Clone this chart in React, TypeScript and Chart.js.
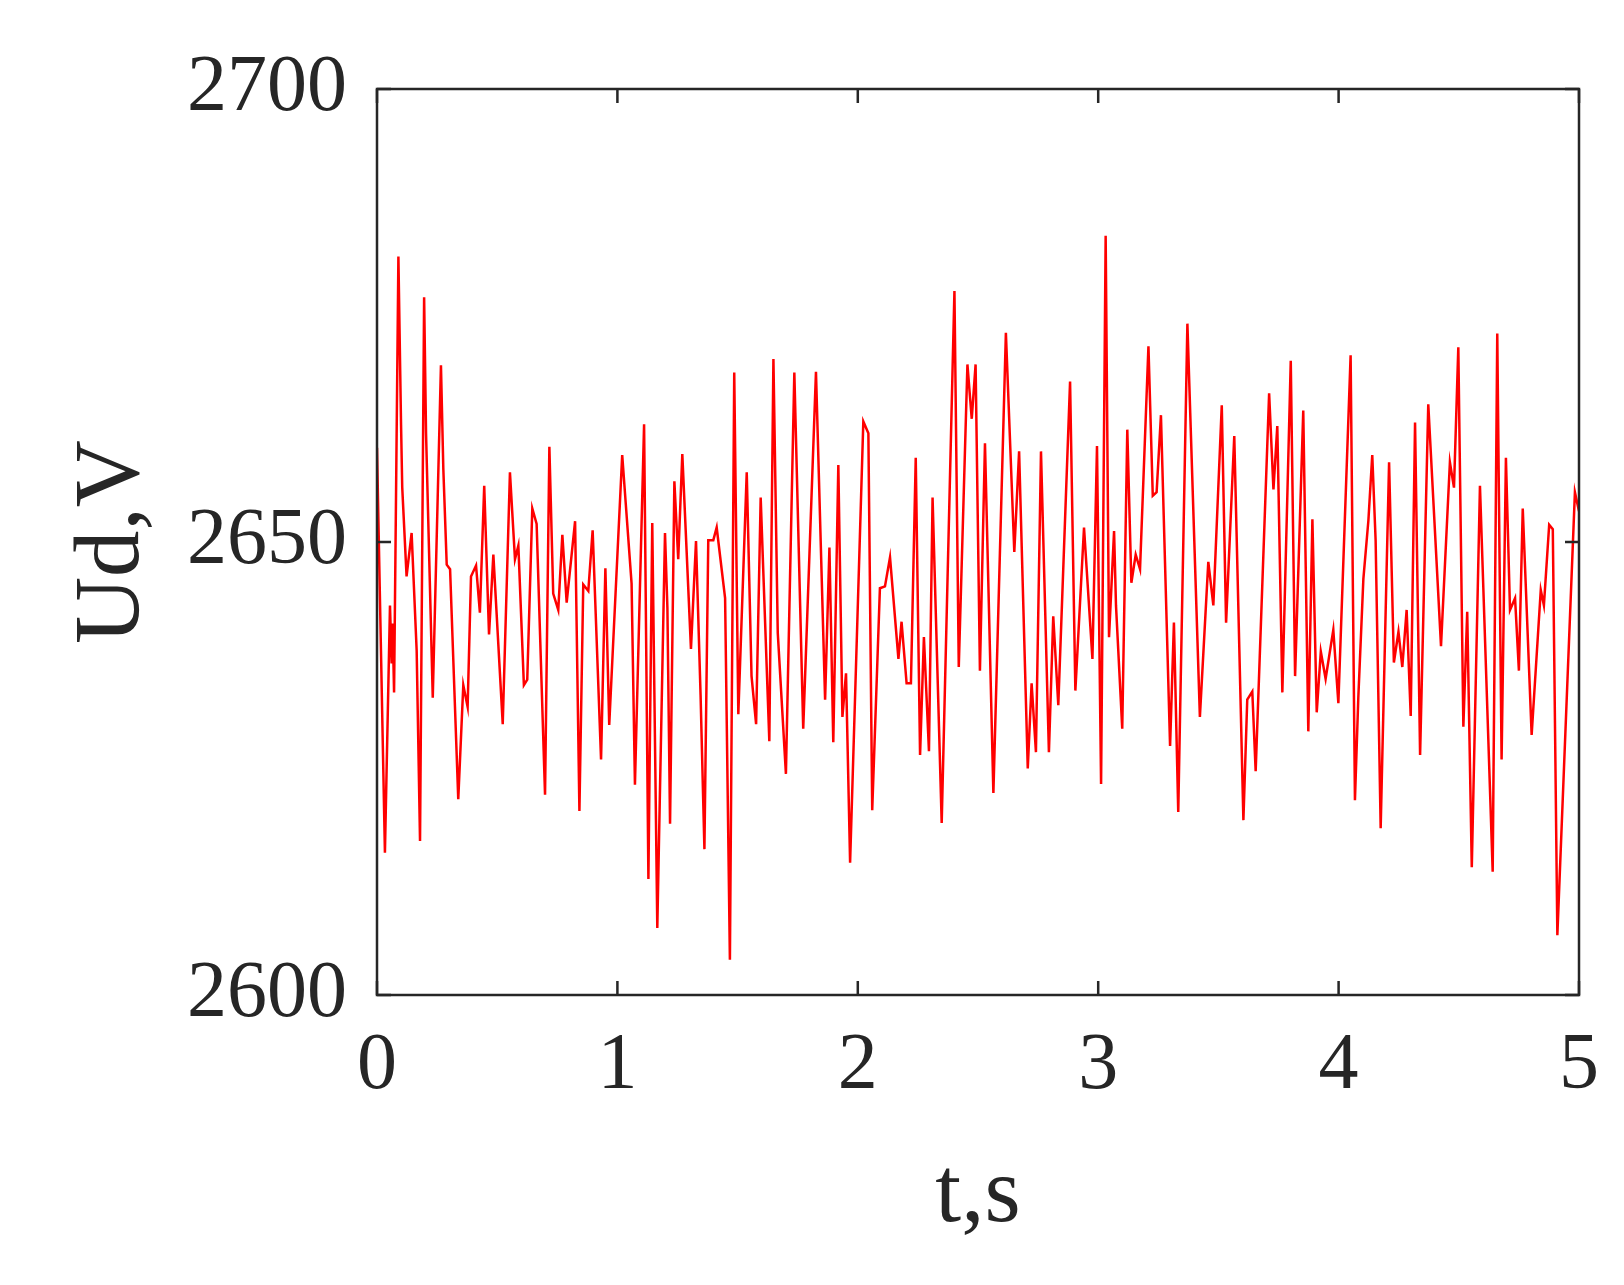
import React, { useEffect, useRef } from "react";
import { Chart, registerables } from "chart.js";

Chart.register(...registerables);

// time (s)
const times = [
  0.0, 0.033, 0.054, 0.061, 0.065, 0.071, 0.089, 0.1, 0.105, 0.123, 0.144, 0.165, 0.179, 0.196, 0.204,
  0.232, 0.266, 0.276, 0.29, 0.304, 0.338, 0.359, 0.377, 0.391, 0.412, 0.428, 0.446, 0.466, 0.484,
  0.523, 0.553, 0.574, 0.588, 0.611, 0.625, 0.646, 0.664, 0.699, 0.717, 0.733, 0.754, 0.771, 0.789,
  0.824, 0.842, 0.858, 0.879, 0.897, 0.932, 0.95, 0.966, 1.02, 1.059, 1.073, 1.111, 1.129, 1.145,
  1.166, 1.198, 1.208, 1.219, 1.237, 1.253, 1.27, 1.306, 1.327, 1.346, 1.362, 1.378, 1.399, 1.413,
  1.448, 1.468, 1.486, 1.503, 1.538, 1.558, 1.577, 1.596, 1.632, 1.649, 1.667, 1.701, 1.736, 1.773,
  1.826, 1.864, 1.882, 1.898, 1.919, 1.936, 1.951, 1.968, 2.023, 2.044, 2.06, 2.092, 2.113, 2.134,
  2.169, 2.182, 2.203, 2.221, 2.241, 2.259, 2.275, 2.296, 2.311, 2.349, 2.402, 2.42, 2.456, 2.474,
  2.49, 2.508, 2.529, 2.564, 2.616, 2.651, 2.671, 2.707, 2.723, 2.741, 2.762, 2.795, 2.813, 2.834,
  2.883, 2.905, 2.941, 2.976, 2.995, 3.012, 3.031, 3.045, 3.066, 3.074, 3.1, 3.121, 3.138, 3.156,
  3.174, 3.209, 3.227, 3.243, 3.261, 3.299, 3.315, 3.333, 3.371, 3.423, 3.458, 3.479, 3.514, 3.532,
  3.566, 3.604, 3.62, 3.641, 3.655, 3.711, 3.729, 3.745, 3.766, 3.801, 3.819, 3.853, 3.874, 3.891,
  3.909, 3.926, 3.946, 3.978, 3.999, 4.05, 4.068, 4.082, 4.103, 4.124, 4.14, 4.154, 4.175, 4.21,
  4.23, 4.249, 4.265, 4.283, 4.3, 4.318, 4.339, 4.373, 4.426, 4.463, 4.48, 4.498, 4.519, 4.535,
  4.554, 4.588, 4.641, 4.66, 4.678, 4.696, 4.713, 4.734, 4.75, 4.766, 4.803, 4.841, 4.854, 4.876,
  4.891, 4.91, 4.983, 5.0,
];

// Ud (V)
const voltages = [
  2660.4, 2615.7, 2643.0, 2636.6, 2641.0, 2633.4, 2681.5, 2663.0, 2656.0, 2646.2, 2651.0, 2638.0, 2617.0, 2677.0, 2662.0,
  2632.8, 2669.5, 2658.0, 2647.5, 2647.0, 2621.6, 2634.2, 2631.8, 2646.2, 2647.4, 2642.2, 2656.2, 2639.8, 2648.6,
  2629.9, 2657.7, 2648.1, 2649.6, 2634.2, 2634.8, 2653.7, 2652.0, 2622.1, 2660.5, 2644.3, 2642.5, 2650.8, 2643.3,
  2652.3, 2620.3, 2645.3, 2644.6, 2651.3, 2626.0, 2647.1, 2629.8, 2659.6, 2645.4, 2623.2, 2663.0, 2612.8, 2652.1,
  2607.4, 2651.0, 2642.7, 2618.9, 2656.7, 2648.1, 2659.7, 2638.2, 2650.1, 2633.1, 2616.1, 2650.2, 2650.2, 2651.6,
  2643.8, 2603.9, 2668.7, 2631.0, 2657.7, 2635.2, 2629.9, 2654.9, 2628.0, 2670.2, 2640.0, 2624.4, 2668.7, 2629.4,
  2668.8, 2632.6, 2649.4, 2627.9, 2658.5, 2630.7, 2635.5, 2614.6, 2663.3, 2662.0, 2620.4, 2644.9, 2645.1, 2648.3,
  2637.1, 2641.2, 2634.4, 2634.4, 2659.3, 2626.5, 2639.5, 2626.9, 2654.9, 2619.0, 2677.7, 2636.2, 2669.6, 2663.6,
  2669.6, 2635.8, 2660.9, 2622.3, 2673.1, 2648.9, 2660.0, 2625.0, 2634.4, 2626.8, 2660.0, 2626.8, 2641.8, 2632.0,
  2667.7, 2633.6, 2651.6, 2637.1, 2660.6, 2623.3, 2683.8, 2639.5, 2651.2, 2643.0, 2629.4, 2662.4, 2645.5, 2648.6,
  2647.0, 2671.6, 2655.1, 2655.5, 2664.0, 2627.5, 2641.1, 2620.2, 2674.1, 2630.7, 2647.8, 2643.0, 2665.1, 2641.1,
  2661.7, 2619.3, 2632.6, 2633.5, 2624.7, 2666.4, 2655.8, 2662.8, 2633.4, 2670.0, 2635.2, 2664.5, 2629.1, 2652.5,
  2631.2, 2637.9, 2634.9, 2640.3, 2632.2, 2670.6, 2621.5, 2632.8, 2645.9, 2652.4, 2659.6, 2650.2, 2618.4, 2658.8,
  2636.7, 2640.1, 2636.2, 2642.5, 2630.8, 2663.2, 2626.5, 2665.2, 2638.5, 2658.8, 2656.0, 2671.5, 2629.6, 2642.3,
  2614.1, 2656.2, 2613.6, 2673.0, 2626.0, 2659.3, 2642.5, 2643.8, 2635.8, 2653.7, 2628.7, 2644.7, 2643.0, 2651.9,
  2651.4, 2606.6, 2655.5, 2653.4,
];

const xTicks = [0, 1, 2, 3, 4, 5];
const yTicks = [2600, 2650, 2700];
const xTitle = "t,s";
const yTitle = "Ud,V";

const INK = "#262626";
const FONT = "'Liberation Serif', 'DejaVu Serif', serif";

const boxPlugin = {
  id: "boxTicks",
  afterDraw(chart: any) {
    const { ctx, chartArea: a, scales } = chart;
    const L = 14;
    ctx.save();
    ctx.strokeStyle = INK;
    ctx.lineWidth = 2.5;
    ctx.beginPath();
    xTicks.forEach((v) => {
      const px = scales.x.getPixelForValue(v);
      ctx.moveTo(px, a.bottom);
      ctx.lineTo(px, a.bottom - L);
      ctx.moveTo(px, a.top);
      ctx.lineTo(px, a.top + L);
    });
    yTicks.forEach((v) => {
      const py = scales.y.getPixelForValue(v);
      ctx.moveTo(a.left, py);
      ctx.lineTo(a.left + L, py);
      ctx.moveTo(a.right, py);
      ctx.lineTo(a.right - L, py);
    });
    ctx.stroke();
    ctx.strokeRect(a.left, a.top, a.right - a.left, a.bottom - a.top);
    ctx.restore();
  },
};

export default function App() {
  const ref = useRef<HTMLCanvasElement | null>(null);

  useEffect(() => {
    if (!ref.current) return;
    const chart = new Chart(ref.current, {
      type: "line",
      data: {
        datasets: [
          {
            data: times.map((t, i) => ({ x: t, y: voltages[i] })),
            borderColor: "#ff0000",
            borderWidth: 2.5,
            pointRadius: 0,
            tension: 0,
            fill: false,
          },
        ],
      },
      options: {
        animation: false,
        responsive: false,
        devicePixelRatio: 1,
        layout: { padding: { left: 0, top: 89, right: 45, bottom: 0 } },
        plugins: { legend: { display: false }, tooltip: { enabled: false } },
        scales: {
          x: {
            type: "linear",
            min: 0,
            max: 5,
            afterBuildTicks: (s: any) => {
              s.ticks = xTicks.map((v) => ({ value: v }));
            },
            afterFit: (s: any) => {
              s.height = 290;
            },
            grid: { display: false, drawTicks: false },
            border: { display: false },
            ticks: {
              color: INK,
              font: { family: FONT, size: 80 },
              padding: 24,
              maxRotation: 0,
              callback: (v: any) => String(v),
            },
            title: {
              display: true,
              text: xTitle,
              color: INK,
              font: { family: FONT, size: 93 },
              padding: { top: 0, bottom: 33 },
            },
          },
          y: {
            type: "linear",
            min: 2600,
            max: 2700,
            afterBuildTicks: (s: any) => {
              s.ticks = yTicks.map((v) => ({ value: v }));
            },
            afterFit: (s: any) => {
              s.width = 377;
            },
            grid: { display: false, drawTicks: false },
            border: { display: false },
            ticks: {
              color: INK,
              font: { family: FONT, size: 80 },
              padding: 30,
              callback: (v: any) => String(v),
            },
            title: {
              display: true,
              text: yTitle,
              color: INK,
              font: { family: FONT, size: 93 },
              padding: { top: 58, bottom: 0 },
            },
          },
        },
      },
      plugins: [boxPlugin],
    });
    return () => chart.destroy();
  }, []);

  return (
    <div style={{ position: "fixed", left: 0, top: 0, width: 1624, height: 1285, background: "#fff" }}>
      <canvas ref={ref} width={1624} height={1285} style={{ display: "block" }} />
    </div>
  );
}
